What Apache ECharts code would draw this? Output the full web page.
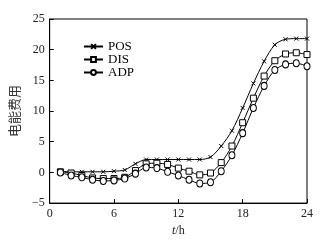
<!DOCTYPE html>
<html><head><meta charset="utf-8">
<script src="https://cdn.jsdelivr.net/npm/echarts@6/dist/echarts.min.js"></script>
<style>html,body{margin:0;padding:0;background:#fff}#c{width:325px;height:242px}</style>
</head><body><div id="c"></div>
<script>
const hours = [1,2,3,4,5,6,7,8,9,10,11,12,13,14,15,16,17,18,19,20,21,22,23,24];
const posValues = [0.2,0.1,0.1,0.1,0.1,0.2,0.4,1.4,2.1,2.1,2.1,2.1,2.1,2.1,2.5,4.3,6.8,10.5,14.5,18.1,20.8,21.7,21.8,21.8];
const disValues = [0.1,-0.1,-0.5,-0.9,-1.0,-1.0,-0.8,0.3,1.4,1.5,1.3,0.7,0.2,-0.4,-0.1,1.6,4.3,8.1,12.1,15.7,18.2,19.3,19.5,19.2];
const adpValues = [0.0,-0.5,-0.8,-1.2,-1.4,-1.3,-1.0,-0.2,0.8,0.7,0.1,-0.5,-1.2,-1.8,-1.6,0.2,2.8,6.4,10.5,14.1,16.7,17.6,17.8,17.3];
const seriesNames = ['POS','DIS','ADP'];
const xTicks = [0,6,12,18,24];
const yTicks = [-5,0,5,10,15,20,25];

const pair = v => v.map((y,i)=>[hours[i], y]);
const font = '"Liberation Serif","Times New Roman",serif';
const mk = (name, data, symbol, size) => ({
  name, type:'line', data: pair(data), smooth: 0.3,
  symbol, symbolSize: size, showSymbol:true,
  lineStyle:{color:'#000', width:1},
  itemStyle:{color:'#fff', borderColor:'#000', borderWidth:1},
  emphasis:{disabled:true}
});
const chart = echarts.init(document.getElementById('c'));
chart.setOption({
  animation:false,
  grid:{left:45, right:18, top:19, bottom:34, show:true, borderColor:'#000', borderWidth:1},
  legend:{
    orient:'vertical', left:78, top:40, itemWidth:19, itemHeight:6, itemGap:0, padding:[0,5],
    textStyle:{fontFamily:font, fontSize:13, color:'#000', lineHeight:12.5},
    data: seriesNames
  },
  xAxis:{
    type:'value', min:0, max:24, interval:6,
    name:'{i|t}/h', nameLocation:'middle', nameGap:20,
    nameTextStyle:{fontFamily:font, fontSize:12, color:'#222', rich:{i:{fontStyle:'italic', fontFamily:font, fontSize:12, color:'#222'}}},
    axisLine:{onZero:false, lineStyle:{color:'#000'}},
    axisTick:{inside:true, length:4, lineStyle:{color:'#000'}},
    axisLabel:{fontFamily:font, fontSize:12, color:'#222', margin:5, formatter: v => xTicks.includes(v) ? String(v) : ''},
    splitLine:{show:false}
  },
  yAxis:{
    type:'value', min:-5, max:25, interval:5,
    name:'电能费用', nameLocation:'middle', nameGap:27,
    nameTextStyle:{fontFamily:'"Noto Sans CJK SC",sans-serif', fontSize:13, color:'#333'},
    axisLine:{show:true, onZero:false, lineStyle:{color:'#000'}},
    axisTick:{inside:true, length:4, lineStyle:{color:'#000'}},
    axisLabel:{fontFamily:font, fontSize:12, color:'#222', margin:5, formatter: v => yTicks.includes(v) ? String(v).replace('-', '\u2212') : ''},
    splitLine:{show:false}
  },
  series:[
    mk('POS', posValues, 'path://M0,0L10,10M10,0L0,10', 4),
    mk('DIS', disValues, 'rect', 6),
    mk('ADP', adpValues, 'circle', [6,7])
  ]
});
</script></body></html>
